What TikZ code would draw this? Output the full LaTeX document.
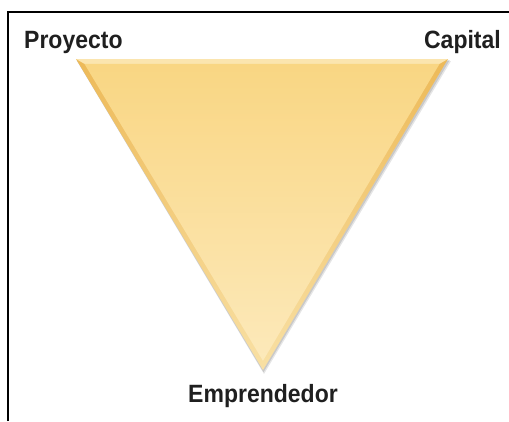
\documentclass[tikz,border=0pt]{standalone}
\usepackage{fontspec}
\setmainfont{Liberation Sans}
\usetikzlibrary{calc}
\definecolor{edgeY}{HTML}{EBC062}
\definecolor{topY}{HTML}{F8D47A}
\definecolor{botY}{HTML}{FCE8B4}
\definecolor{innerTop}{HTML}{F9D683}
\definecolor{innerBot}{HTML}{FCE9BA}
\newcommand{\lbltext}[1]{\scalebox{0.92}[1]{#1}}
\tikzset{
  lbl/.style={font=\fontsize{25}{29}\selectfont\bfseries, inner sep=0pt, text=black!88},
  frameline/.style={line width=2pt, black}
}
\begin{document}
\begin{tikzpicture}[x=1pt,y=-1pt]
\useasboundingbox (0,0) rectangle (509,421);
\fill[white] (0,0) rectangle (509,421);
% frame
\coordinate (fl) at (8,421);
\coordinate (fc) at (8,12);
\coordinate (fr) at (509,12);
\draw[frameline] (fl) -- (fc) -- (fr);
% triangle vertices
\coordinate (A) at (76,59);
\coordinate (B) at (448,59);
\coordinate (C) at (263,370);
\coordinate (I) at (262,165);
% shadow
\fill[black, opacity=0.10] ($(A)+(1,2)$) -- ($(B)+(3,2)$) -- ($(C)+(1,4)$) -- cycle;
\fill[black, opacity=0.12] ($(A)+(0.5,1)$) -- ($(B)+(1.8,1)$) -- ($(C)+(0.5,2.2)$) -- cycle;
% outer triangle (bevel)
\shade[top color=edgeY!90!orange, bottom color=botY!80!edgeY] (A) -- (B) -- (C) -- cycle;
% highlight on top edge
\fill[topY!60!white] (A) -- (B) -- ($(I)!0.955!(B)$) -- ($(I)!0.955!(A)$) -- cycle;
% inner triangle
\shade[top color=innerTop, bottom color=innerBot] ($(I)!0.955!(A)$) -- ($(I)!0.955!(B)$) -- ($(I)!0.955!(C)$) -- cycle;
% labels
\node[lbl, anchor=base west] (proy) at (24,48) {\lbltext{Proyecto}};
\node[lbl, anchor=base east] (cap) at (501,48) {\lbltext{Capital}};
\node[lbl, anchor=base] (emp) at (263,402) {\lbltext{Emprendedor}};
\end{tikzpicture}
\end{document}
